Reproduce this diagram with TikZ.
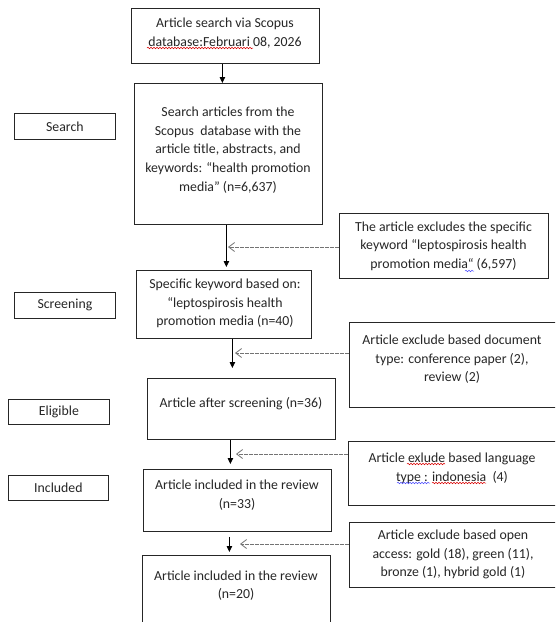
\documentclass[tikz,border=0pt]{standalone}
\usepackage{fontspec}
\setmainfont{Carlito}
\usetikzlibrary{arrows.meta,decorations.pathmorphing}
\begin{document}
\begin{tikzpicture}[x=1pt,y=-1pt,
  box/.style={draw=black!85, line width=0.8pt, inner sep=0pt, anchor=north west},
  txt/.style={align=center, text=black!85, font=\fontsize{13.8}{18.6}\selectfont, inner sep=0pt},
  arr/.style={draw=black, line width=0.8pt, -{Triangle[length=6pt,width=5.5pt]}},
  darr/.style={draw=black!55, line width=0.7pt, dash pattern=on 1.6pt off 0.9pt, -{Straight Barb[length=6pt,width=9pt,line width=0.8pt]}},
  wave/.style={line width=0.5pt, decorate, decoration={snake, amplitude=0.8pt, segment length=3pt}},
  redwave/.style={wave, draw=red!85!black},
  bluewave/.style={wave, draw=blue!70}
]
\useasboundingbox (0,0) rectangle (555,622);
\fill[white] (0,0) rectangle (555,622);
\clip (0,0) rectangle (555,622);

% stage labels
\node[box, minimum width=101pt, minimum height=26pt] (sbox) at (14,113) {};
\node[txt] (stxt) at (sbox.center) {Search};
\node[box, minimum width=101pt, minimum height=26pt] (scbox) at (14,292) {};
\node[txt] (sctxt) at (scbox.center) {Screening};
\node[box, minimum width=101pt, minimum height=25pt] (ebox) at (8,399) {};
\node[txt] (etxt) at (ebox.center) {Eligible};
\node[box, minimum width=100pt, minimum height=25pt] (ibox) at (8,475) {};
\node[txt] (itxt) at (ibox.center) {Included};

% main column
\node[box, minimum width=188pt, minimum height=55pt] (a) at (131,8) {};
\node[txt] (ta) at (225,33) {Article search via Scopus\\database:Februari 08, 2026};

\node[box, minimum width=188pt, minimum height=141pt] (b) at (134,83) {};
\node[txt] (tb) at (228,150) {Search articles from the\\Scopus \ database with the\\article title, abstracts, and\\keywords: “health promotion\\media” (n=6,637)};

\node[box, minimum width=175pt, minimum height=68pt] (c) at (136,270) {};
\node[txt] (tc) at (225,303.5) {Specific keyword based on:\\“leptospirosis health\\promotion media (n=40)};

\node[box, minimum width=188pt, minimum height=61pt] (d) at (147,378) {};
\node[txt] (td) at (241,404) {Article after screening (n=36)};

\node[box, minimum width=188pt, minimum height=62pt] (e) at (143,469) {};
\node[txt] (te) at (237,495) {Article included in the review\\(n=33)};

\node[box, minimum width=188pt, minimum height=90pt] (f) at (142,555) {};
\node[txt] (tf) at (236,585.5) {Article included in the review\\(n=20)};

% exclusion boxes
\node[box, minimum width=209pt, minimum height=65pt] (x1) at (339,213) {};
\node[txt] (tx1) at (443.5,246) {The article excludes the specific\\keyword “leptospirosis health\\promotion media“ (6,597)};

\node[box, minimum width=215pt, minimum height=85pt] (x2) at (349,322) {};
\node[txt] (tx2) at (452,359.5) {Article exclude based document\\type: conference paper (2),\\review (2)};

\node[box, minimum width=215pt, minimum height=64pt] (x3) at (348,441) {};
\node[txt] (tx3) at (452,468.5) {Article exlude based language\\type : indonesia\ \ (4)};

\node[box, minimum width=215pt, minimum height=65pt] (x4) at (349,522) {};
\node[txt] (tx4) at (453,554.5) {Article exclude based open\\access: gold (18), green (11),\\bronze (1), hybrid gold (1)};

% spell-check underlines
\draw[redwave] (147,48) -- (253,48);
\draw[bluewave] (465,271) -- (474,271);
\draw[redwave] (407,464) -- (445,464);
\draw[bluewave] (397,483) -- (430,483);
\draw[redwave] (432,483) -- (486,483);

% vertical arrows
\draw[arr] ([xshift=-3pt]a.south) -- ([xshift=-3pt]a.south |- b.north);
\draw[arr, shorten >=3pt] ([xshift=-2pt]b.south) -- ([xshift=-2pt]b.south |- c.north);
\draw[arr, shorten >=10pt] ([xshift=8.5pt]c.south) -- ([xshift=8.5pt]c.south |- d.north);
\draw[arr, shorten >=5pt] ([xshift=-11pt]d.south) -- ([xshift=-11pt]d.south |- e.north);
\draw[arr, shorten <=5pt, shorten >=3pt] ([xshift=-8pt]e.south) -- ([xshift=-8pt]e.south |- f.north);

% dashed arrows
\coordinate (t1) at (228,247);
\coordinate (t2) at (235,353);
\coordinate (t3) at (236,454);
\coordinate (t4) at (240,544);
\draw[darr] (x1.west |- t1) -- (t1);
\draw[darr] (x2.west |- t2) -- (t2);
\draw[darr] (x3.west |- t3) -- (t3);
\draw[darr] (x4.west |- t4) -- (t4);
\end{tikzpicture}
\end{document}
